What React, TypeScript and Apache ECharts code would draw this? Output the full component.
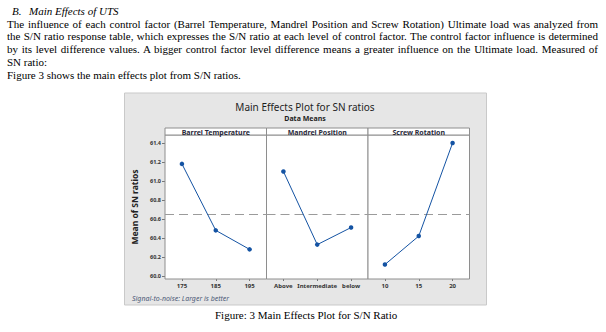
import React, { useEffect, useRef } from "react";
import * as echarts from "echarts";

// ---- data ----
const factors = ["Barrel Temperature", "Mandrel Position", "Screw Rotation"];
const barrelLevels = ["175", "185", "195"];
const barrelSN = [61.18, 60.48, 60.28];
const mandrelLevels = ["Above", "Intermediate", "below"];
const mandrelSN = [61.1, 60.33, 60.51];
const screwLevels = ["10", "15", "20"];
const screwSN = [60.12, 60.42, 61.4];
const yTickValues = [60.0, 60.2, 60.4, 60.6, 60.8, 61.0, 61.2, 61.4];

const chartTitle = "Main Effects Plot for SN ratios";
const chartSubtitle = "Data Means";
const yAxisTitle = "Mean of SN ratios";
const footnote = "Signal-to-noise: Larger is better";

const headingLabel = "B.";
const headingText = "Main Effects of UTS";
const justifiedLines = [
  "The influence of each control factor (Barrel Temperature, Mandrel Position and Screw Rotation) Ultimate load was analyzed from",
  "the S/N ratio response table, which expresses the S/N ratio at each level of control factor. The control factor influence is determined",
  "by its level difference values. A bigger control factor level difference means a greater influence on the Ultimate load.  Measured of",
];
const plainLines = ["SN ratio:", "Figure 3 shows the main effects plot from S/N ratios."];
const caption = "Figure: 3 Main Effects Plot for S/N Ratio";

// ---- layout ----
const Y_MIN = 59.968;
const Y_MAX = 61.484;
const PANEL_LEFT = 165;
const PANEL_RIGHT = 469.5;
const PLOT_TOP = 135;
const PLOT_BOTTOM = 279;
const HEADER_TOP = 128;

export default function App() {
  const ref = useRef<HTMLDivElement>(null);

  useEffect(() => {
    if (!ref.current) return;
    const chart = echarts.init(ref.current, null, { renderer: "svg" });

    const levels = [barrelLevels, mandrelLevels, screwLevels];
    const values = [barrelSN, mandrelSN, screwSN];
    const all = values.flat();
    const grandMean = all.reduce((a, b) => a + b, 0) / all.length;

    const panelW = (PANEL_RIGHT - PANEL_LEFT) / 3;
    const font = "'Noto Sans', 'Open Sans', sans-serif";

    const grids = levels.map((_, i) => ({
      left: PANEL_LEFT + i * panelW,
      top: PLOT_TOP,
      width: panelW,
      height: PLOT_BOTTOM - PLOT_TOP,
      show: true,
      backgroundColor: "#ffffff",
      borderColor: "#8e8e8e",
      borderWidth: 1,
      z: 2,
    }));

    const xAxes = levels.map((cats, i) => ({
      type: "category",
      gridIndex: i,
      data: cats,
      boundaryGap: true,
      axisLine: { show: false },
      axisTick: { show: true, alignWithLabel: true, length: 2, interval: 0, lineStyle: { color: "#777" } },
      axisLabel: {
        interval: 0,
        hideOverlap: false,
        fontSize: 6,
        color: "#333",
        margin: 4,
        fontFamily: font,
        fontWeight: "bold",
      },
      splitLine: { show: false },
    }));

    const yAxes = levels.map((_, i) => ({
      type: "value",
      gridIndex: i,
      min: Y_MIN,
      max: Y_MAX,
      show: i === 0,
      name: i === 0 ? yAxisTitle : "",
      nameLocation: "middle",
      nameGap: 26,
      nameTextStyle: { fontSize: 8.5, color: "#222", fontFamily: font, fontWeight: "bold" },
      axisLine: { show: false },
      splitLine: { show: false },
      axisTick: {
        show: true,
        length: 3,
        customValues: yTickValues,
        lineStyle: { color: "#777" },
      },
      axisLabel: {
        show: true,
        customValues: yTickValues,
        formatter: (v: number) => v.toFixed(1),
        fontSize: 5.5,
        color: "#333",
        margin: 4,
        fontFamily: font,
        fontWeight: "bold",
      },
    }));

    const series = values.map((vals, i) => ({
      type: "line",
      xAxisIndex: i,
      yAxisIndex: i,
      data: vals,
      symbol: "circle",
      symbolSize: 4.5,
      lineStyle: { color: "#1453a3", width: 1 },
      itemStyle: { color: "#1453a3" },
      z: 5,
      markLine: {
        silent: true,
        symbol: "none",
        label: { show: false },
        lineStyle: { color: "#9b9b9b", type: [9, 5], width: 1 },
        data: [{ yAxis: grandMean }],
        z: 3,
      },
    }));

    const graphic: any[] = [
      {
        type: "rect",
        shape: { x: 124.5, y: 93, width: 362, height: 212 },
        style: { fill: "#e6e6e6", stroke: "#c9c9c9", lineWidth: 1 },
        z: -10,
      },
      {
        type: "text",
        x: 305,
        y: 106.5,
        style: {
          text: chartTitle,
          fill: "#1e1e1e",
          font: `10px ${font}`,
          textAlign: "center",
          textVerticalAlign: "middle",
        },
        z: 10,
      },
      {
        type: "text",
        x: 305,
        y: 118.5,
        style: {
          text: chartSubtitle,
          fill: "#1e1e1e",
          font: `bold 7px ${font}`,
          textAlign: "center",
          textVerticalAlign: "middle",
        },
        z: 10,
      },
      {
        type: "text",
        x: 132,
        y: 298,
        style: {
          text: footnote,
          fill: "#4d5a77",
          font: `italic 7px ${font}`,
          textAlign: "left",
          textVerticalAlign: "middle",
        },
        z: 10,
      },
    ];

    factors.forEach((f, i) => {
      const x0 = PANEL_LEFT + i * panelW;
      graphic.push({
        type: "rect",
        shape: { x: x0, y: HEADER_TOP, width: panelW, height: PLOT_TOP - HEADER_TOP },
        style: { fill: "#ffffff", stroke: "#8e8e8e", lineWidth: 1 },
        z: 10,
      });
      graphic.push({
        type: "text",
        x: x0 + panelW / 2,
        y: HEADER_TOP + (PLOT_TOP - HEADER_TOP) / 2 + 0.5,
        style: {
          text: f,
          fill: "#2a2a3a",
          font: `bold 7px ${font}`,
          textAlign: "center",
          textVerticalAlign: "middle",
        },
        z: 11,
      });
    });

    chart.setOption({
      animation: false,
      backgroundColor: "transparent",
      grid: grids,
      xAxis: xAxes,
      yAxis: yAxes,
      series,
      graphic,
    });

    return () => chart.dispose();
  }, []);

  const lineH = 12.7;
  const firstCenter = 11.5;
  const topOf = (i: number) => firstCenter + i * lineH - 6.5;

  return (
    <div
      style={{
        position: "absolute",
        left: 0,
        top: 0,
        width: 606,
        height: 332,
        background: "#ffffff",
        overflow: "hidden",
      }}
    >
      <div ref={ref} style={{ position: "absolute", left: 0, top: 0, width: 606, height: 332 }} />
      <div
        style={{
          position: "absolute",
          left: 0,
          top: 0,
          width: 606,
          height: 332,
          fontFamily: "'Liberation Serif', 'Times New Roman', serif",
          fontSize: 11,
          lineHeight: "13px",
          color: "#000",
          pointerEvents: "none",
        }}
      >
        <div style={{ position: "absolute", left: 12, top: topOf(0), fontStyle: "italic", whiteSpace: "nowrap" }}>
          {headingLabel}
        </div>
        <div style={{ position: "absolute", left: 29, top: topOf(0), fontStyle: "italic", whiteSpace: "nowrap" }}>
          {headingText}
        </div>
        {justifiedLines.map((t, i) => (
          <div
            key={i}
            style={{
              position: "absolute",
              left: 7,
              width: 591,
              top: topOf(i + 1),
              textAlign: "justify",
              textAlignLast: "justify",
              whiteSpace: "nowrap",
            }}
          >
            {t}
          </div>
        ))}
        {plainLines.map((t, i) => (
          <div key={i} style={{ position: "absolute", left: 7, top: topOf(i + 4), whiteSpace: "nowrap" }}>
            {t}
          </div>
        ))}
        <div style={{ position: "absolute", left: 215, top: 315 - 6.5, whiteSpace: "nowrap" }}>{caption}</div>
      </div>
    </div>
  );
}
